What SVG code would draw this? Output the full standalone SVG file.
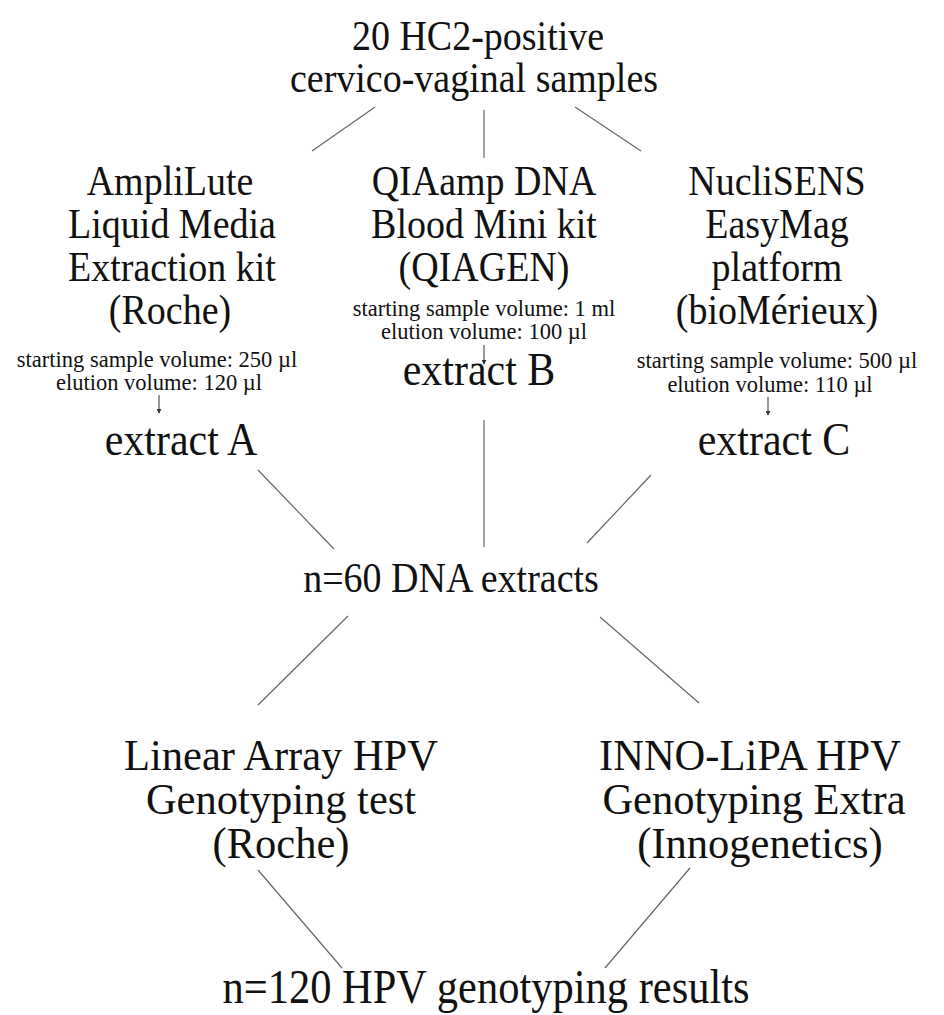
<svg xmlns="http://www.w3.org/2000/svg" width="944" height="1015" viewBox="0 0 944 1015">
<style>
text{font-family:"Liberation Serif","Times New Roman",serif;fill:#111;text-anchor:middle}
.b{font-size:38px}
.l{font-size:42.5px}
.e{font-size:42px}
.s{font-size:22.5px}
.c line{stroke:#666;stroke-width:1.2}
.c line.a{stroke:#333;stroke-width:1}
</style>
<defs>
<marker id="ah" viewBox="0 0 6 6" refX="5" refY="3" markerWidth="5" markerHeight="5" orient="auto">
<path d="M0,0 L6,3 L0,6 Z" fill="#333"/>
</marker>
</defs>
<rect width="944" height="1015" fill="#fff"/>
<g class="c" id="connectors">
<line x1="312" y1="151" x2="375" y2="107"/>
<line x1="484" y1="110" x2="484" y2="158"/>
<line x1="575" y1="107" x2="641" y2="151"/>
<line x1="258" y1="470" x2="334" y2="549"/>
<line x1="484" y1="420" x2="484" y2="547"/>
<line x1="651" y1="475" x2="587" y2="543"/>
<line x1="348" y1="616" x2="258" y2="705"/>
<line x1="600" y1="617" x2="699" y2="703"/>
<line x1="258" y1="870" x2="342" y2="968"/>
<line x1="690" y1="868" x2="605" y2="968"/>
<line class="a" x1="159" y1="395" x2="159" y2="413" marker-end="url(#ah)"/>
<line class="a" x1="484" y1="345" x2="484" y2="364" marker-end="url(#ah)"/>
<line class="a" x1="768" y1="397" x2="768" y2="415" marker-end="url(#ah)"/>
</g>
<g id="samples">
<text class="b" transform="translate(478 50) scale(1 1.12)">20 HC2-positive</text>
<text class="b" transform="translate(474 92) scale(1 1.12)">cervico-vaginal samples</text>
</g>
<g id="kitA">
<text class="b" transform="translate(170 195) scale(1 1.12)">AmpliLute</text>
<text class="b" transform="translate(172 238) scale(1 1.12)">Liquid Media</text>
<text class="b" transform="translate(172 281) scale(1 1.12)">Extraction kit</text>
<text class="b" transform="translate(170 324) scale(1 1.12)">(Roche)</text>
<text class="s" x="157" y="367">starting sample volume: 250 µl</text>
<text class="s" x="159" y="390">elution volume: 120 µl</text>
</g>
<g id="extractA"><text class="e" transform="translate(181 455) scale(1 1.12)">extract A</text></g>
<g id="kitB">
<text class="b" transform="translate(484 195) scale(1 1.12)">QIAamp DNA</text>
<text class="b" transform="translate(484 238) scale(1 1.12)">Blood Mini kit</text>
<text class="b" transform="translate(484 281) scale(1 1.12)">(QIAGEN)</text>
<text class="s" x="484" y="316">starting sample volume: 1 ml</text>
<text class="s" x="484" y="339">elution volume: 100 µl</text>
</g>
<g id="extractB"><text class="e" transform="translate(479 385) scale(1 1.12)">extract B</text></g>
<g id="kitC">
<text class="b" transform="translate(777 195) scale(1 1.12)">NucliSENS</text>
<text class="b" transform="translate(777 238) scale(1 1.12)">EasyMag</text>
<text class="b" transform="translate(777 281) scale(1 1.12)">platform</text>
<text class="b" transform="translate(777 324) scale(1 1.12)">(bioMérieux)</text>
<text class="s" x="777" y="368">starting sample volume: 500 µl</text>
<text class="s" x="770" y="392">elution volume: 110 µl</text>
</g>
<g id="extractC"><text class="e" transform="translate(774 455) scale(1 1.12)">extract C</text></g>
<g id="extracts"><text class="b" transform="translate(451 592) scale(1 1.12)">n=60 DNA extracts</text></g>
<g id="linearArray">
<text class="l" transform="translate(281 770) scale(1 1.05)">Linear Array HPV</text>
<text class="l" transform="translate(281 814) scale(1 1.05)">Genotyping test</text>
<text class="l" transform="translate(281 858) scale(1 1.05)">(Roche)</text>
</g>
<g id="innoLipa">
<text class="l" transform="translate(750 770) scale(1 1.05)">INNO-LiPA HPV</text>
<text class="l" transform="translate(754 814) scale(1 1.05)">Genotyping Extra</text>
<text class="l" transform="translate(760 858) scale(1 1.05)">(Innogenetics)</text>
</g>
<g id="results"><text class="l" transform="translate(486 1003) scale(1 1.12)">n=120 HPV genotyping results</text></g>
</svg>
